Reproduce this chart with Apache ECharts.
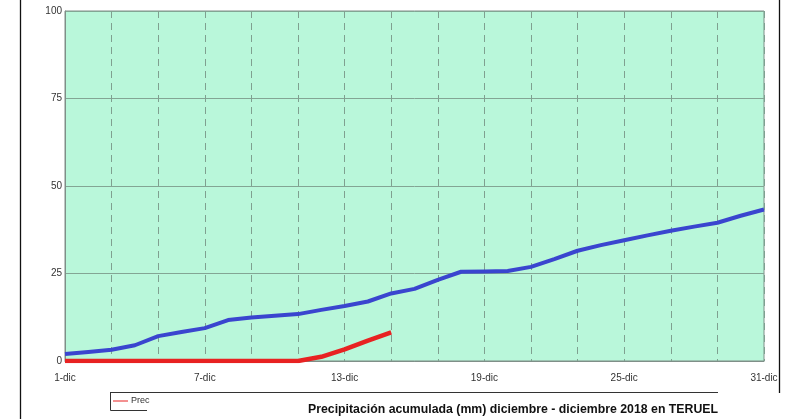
<!DOCTYPE html>
<html><head><meta charset="utf-8">
<script src="https://cdn.jsdelivr.net/npm/echarts@6/dist/echarts.min.js"></script>
<style>html,body{margin:0;padding:0;background:#fff;}#c{width:785px;height:419px;}</style>
</head><body><div id="c"></div>
<script>
const days = [];
for (let d = 1; d <= 31; d++) days.push(d + '-dic');
const blueValues = [2.0,2.6,3.2,4.5,7.1,8.3,9.4,11.7,12.4,12.9,13.4,14.6,15.7,17.0,19.3,20.6,23.2,25.5,25.6,25.7,26.9,29.1,31.5,33.1,34.5,35.9,37.2,38.4,39.5,41.5,43.3];
const redValues = [0,0,0,0,0,0,0,0,0,0,0,1.2,3.3,5.8,8.2];
const yTicks = [0,25,50,75,100];
const titleText = 'Precipitación acumulada (mm) diciembre - diciembre 2018 en TERUEL';
const legendText = 'Prec';

const chart = echarts.init(document.getElementById('c'));
chart.setOption({
  animation: false,
  backgroundColor: '#fff',
  grid: {left: 65, top: 11, right: 21, bottom: 58, show: true, backgroundColor: '#b9f7da', borderColor: '#7f8f88', borderWidth: 1},
  xAxis: {
    type: 'category', data: days, boundaryGap: false,
    axisLine: {show: true, lineStyle: {color: '#7f8f88'}},
    axisTick: {show: false},
    axisLabel: {interval: 5, color: '#333', fontFamily: 'Liberation Sans, Arial', fontSize: 10, margin: 12},
    splitLine: {show: true, interval: 1, lineStyle: {color: '#7fa090', type: [7, 5], width: 1}}
  },
  yAxis: {
    type: 'value', min: 0, max: 100, interval: 25,
    axisLine: {show: true, lineStyle: {color: '#7f8f88'}},
    axisTick: {show: false},
    axisLabel: {color: '#333', fontFamily: 'Liberation Sans, Arial', fontSize: 10, margin: 3},
    splitLine: {show: true, lineStyle: {color: '#83a594', width: 1}}
  },
  series: [
    {type: 'line', data: blueValues, symbol: 'none', lineStyle: {color: '#3a45cf', width: 4}, z: 3},
    {type: 'line', data: redValues, symbol: 'none', lineStyle: {color: '#e82222', width: 4.5}, z: 4}
  ],
  graphic: [
    {type: 'line', shape: {x1: 20.5, y1: 0, x2: 20.5, y2: 419}, style: {stroke: '#111', lineWidth: 1.3}},
    {type: 'line', shape: {x1: 779.5, y1: 0, x2: 779.5, y2: 393}, style: {stroke: '#111', lineWidth: 1.3}},
    {type: 'line', shape: {x1: 110, y1: 392.5, x2: 718, y2: 392.5}, style: {stroke: '#333', lineWidth: 1}},
    {type: 'polyline', shape: {points: [[147, 410.5], [110.5, 410.5], [110.5, 392.5]]}, style: {stroke: '#333', lineWidth: 1, fill: null}},
    {type: 'line', shape: {x1: 113, y1: 401, x2: 128, y2: 401}, style: {stroke: '#e82222', lineWidth: 1}},
    {type: 'text', x: 131, y: 401, style: {text: legendText, fill: '#333', font: '9px Liberation Sans, Arial', verticalAlign: 'middle'}},
    {type: 'text', x: 513, y: 410, style: {text: titleText, fill: '#111', font: 'bold 12.3px Liberation Sans, Arial', align: 'center', verticalAlign: 'middle'}}
  ]
});
</script></body></html>
